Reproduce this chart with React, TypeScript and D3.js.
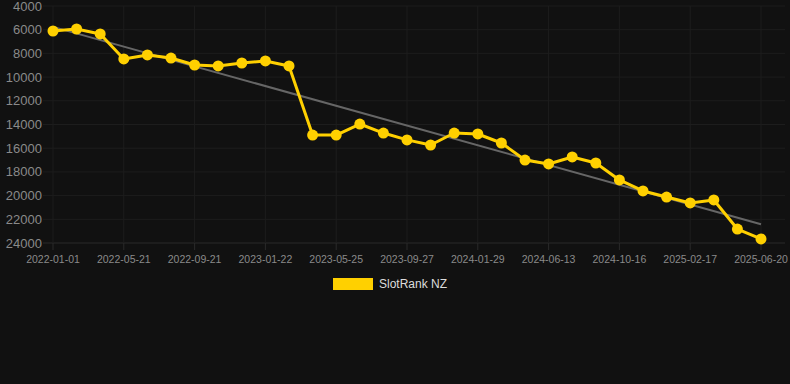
import React, { useEffect, useRef } from "react";
import * as d3 from "d3";

const dates = [
  "2022-01-01", "2022-02-16", "2022-04-04", "2022-05-21", "2022-06-21", "2022-08-21",
  "2022-09-21", "2022-11-01", "2022-12-12", "2023-01-22", "2023-03-04", "2023-04-14",
  "2023-05-25", "2023-07-05", "2023-08-16", "2023-09-27", "2023-11-07", "2023-12-18",
  "2024-01-29", "2024-03-15", "2024-04-29", "2024-06-13", "2024-07-25", "2024-09-04",
  "2024-10-16", "2024-11-26", "2025-01-06", "2025-02-17", "2025-03-31", "2025-05-10",
  "2025-06-20",
];
const ranks = [
  6110, 5940, 6360, 8470, 8130, 8390, 8980, 9060, 8810, 8640, 9060,
  14890, 14890, 13960, 14720, 15300, 15730, 14720, 14800, 15560, 17000,
  17330, 16740, 17250, 18680, 19610, 20120, 20620, 20370, 22820, 23660,
];
const yTicks = [4000, 6000, 8000, 10000, 12000, 14000, 16000, 18000, 20000, 22000, 24000];
const seriesName = "SlotRank NZ";

export default function App() {
  const ref = useRef<SVGSVGElement>(null);
  useEffect(() => {
    const W = 790, H = 384;
    const svg = d3.select(ref.current);
    svg.selectAll("*").remove();
    svg.append("rect").attr("width", W).attr("height", H).attr("fill", "#111111");

    const plotL = 43, plotR = 785;
    const x = d3.scalePoint<string>().domain(dates).range([53, 761]);
    const y = d3.scaleLinear().domain([4000, 24000]).range([6, 243]);

    const grid = svg.append("g");
    yTicks.forEach((t) => {
      grid.append("line").attr("x1", plotL).attr("x2", plotR)
        .attr("y1", y(t)).attr("y2", y(t))
        .attr("stroke", t === 24000 ? "#2a2a2a" : "#1d1d1d").attr("stroke-width", 1);
      svg.append("text").attr("x", 42).attr("y", y(t)).attr("dy", "0.35em")
        .attr("text-anchor", "end").attr("fill", "#8a8a8a")
        .attr("font-family", "Liberation Sans, Arial, sans-serif").attr("font-size", 13)
        .text(String(t));
    });
    dates.forEach((d, i) => {
      if (i % 3 !== 0) return;
      grid.append("line").attr("x1", x(d)!).attr("x2", x(d)!)
        .attr("y1", 6).attr("y2", 243)
        .attr("stroke", "#1d1d1d").attr("stroke-width", 1);
      grid.append("line").attr("x1", x(d)!).attr("x2", x(d)!)
        .attr("y1", 243).attr("y2", 250)
        .attr("stroke", "#2a2a2a").attr("stroke-width", 1);
      svg.append("text").attr("x", x(d)!).attr("y", 259).attr("dy", "0.35em")
        .attr("text-anchor", "middle").attr("fill", "#8a8a8a")
        .attr("font-family", "Liberation Sans, Arial, sans-serif").attr("font-size", 10.5)
        .text(d);
    });

    // linear regression trend
    const n = ranks.length;
    const mx = d3.mean(d3.range(n))!;
    const my = d3.mean(ranks)!;
    let num = 0, den = 0;
    ranks.forEach((v, i) => { num += (i - mx) * (v - my); den += (i - mx) ** 2; });
    const slope = num / den;
    const icpt = my - slope * mx;
    svg.append("line")
      .attr("x1", x(dates[0])!).attr("y1", y(icpt))
      .attr("x2", x(dates[n - 1])!).attr("y2", y(icpt + slope * (n - 1)))
      .attr("stroke", "#666").attr("stroke-width", 2);

    const line = d3.line<number>().x((_, i) => x(dates[i])!).y((v) => y(v));
    svg.append("path").datum(ranks).attr("d", line).attr("fill", "none")
      .attr("stroke", "#FFD000").attr("stroke-width", 3).attr("stroke-linejoin", "round");
    svg.selectAll("circle.pt").data(ranks).enter().append("circle")
      .attr("cx", (_, i) => x(dates[i])!).attr("cy", (v) => y(v)).attr("r", 5.5)
      .attr("fill", "#FFD000");

    svg.append("rect").attr("x", 333).attr("y", 278).attr("width", 40).attr("height", 12)
      .attr("fill", "#FFD000");
    svg.append("text").attr("x", 379).attr("y", 284).attr("dy", "0.35em")
      .attr("fill", "#dddddd").attr("font-family", "Liberation Sans, Arial, sans-serif")
      .attr("font-size", 12).text(seriesName);
  }, []);
  return (
    <svg ref={ref} width={790} height={384}
      style={{ position: "absolute", left: 0, top: 0, display: "block" }} />
  );
}
